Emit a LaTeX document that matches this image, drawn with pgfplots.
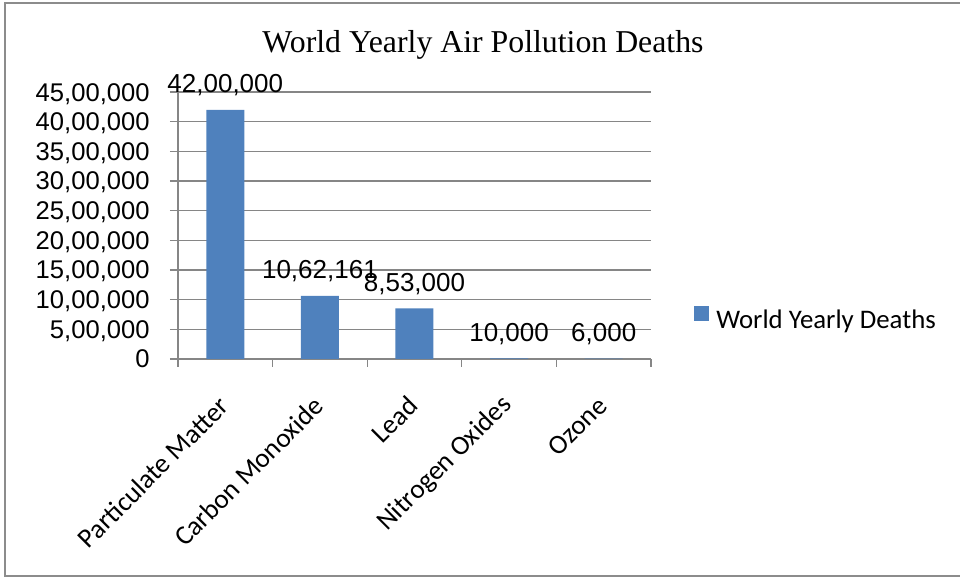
\documentclass[border=0pt]{standalone}
\usepackage{pgfplots}
\usepackage{pgfplotstable}
\pgfplotsset{compat=1.18}
\usepackage{fontspec}
\setmainfont{Liberation Sans}
\newfontfamily\seriffont{Liberation Serif}
\newfontfamily\califont{Carlito}
\definecolor{barblue}{RGB}{79,129,189}
\definecolor{gridgray}{RGB}{134,134,134}
\definecolor{bordergray}{RGB}{140,140,140}

\pgfplotstableread{
x y label
0 4200000 42,00,000
1 1062161 10,62,161
2 853000 8,53,000
3 10000 10,000
4 6000 6,000
}\deaths

\begin{document}
\begin{tikzpicture}
\useasboundingbox (0,0) rectangle (480pt,289pt);
\draw[bordergray, line width=1pt] (480pt,287.5pt) -- (2.5pt,287.5pt) -- (2.5pt,1pt) -- (480pt,1pt);
\node[anchor=base, font=\seriffont\fontsize{15.9}{18}\selectfont] at (241.5pt,262.5pt) {World Yearly Air Pollution Deaths};
\begin{axis}[
  at={(89pt,109.5pt)}, anchor=south west,
  scale only axis, width=236.5pt, height=133.5pt,
  xmin=-0.5, xmax=4.5, ymin=0, ymax=4500000,
  axis x line*=bottom, axis y line*=left,
  axis line style={gridgray, line width=0.6pt},
  ymajorgrids, grid style={gridgray, line width=0.6pt},
  xtick={-0.5,0.5,...,4.5},
  x tick label as interval,
  xticklabels={Particulate Matter,Carbon Monoxide,Lead,Nitrogen Oxides,Ozone},
  ytick={0,500000,...,4500000},
  yticklabels={0,{5,00,000},{10,00,000},{15,00,000},{20,00,000},{25,00,000},{30,00,000},{35,00,000},{40,00,000},{45,00,000}},
  scaled y ticks=false,
  tick align=outside, major tick length=4pt,
  tick style={gridgray, line width=0.6pt},
  xtick pos=bottom, ytick pos=left,
  /pgf/number format/assume math mode=true,
  yticklabel style={font=\fontsize{12.8}{14}\selectfont, anchor=base east, inner sep=0pt, xshift=-10pt, yshift=-4.5pt},
  xticklabel style={font=\califont\fontsize{13.6}{15}\selectfont, xshift=-0.5pt, yshift=-17pt, rotate=45, anchor=east, inner sep=0pt},
  ybar, bar width=19pt,
  nodes near coords,
  point meta=explicit symbolic,
  nodes near coords style={font=\fontsize{13}{14}\selectfont, anchor=base, inner sep=0pt, yshift=8.6pt, black},
  legend style={draw=none, fill=none, at={(1.0909,0.150)}, anchor=west, inner sep=0pt,
    nodes={inner sep=0pt}, column sep=3.5pt, font=\califont\fontsize{13.4}{15}\selectfont},
  legend cell align=left,
]
\addplot[fill=barblue, draw=none,
  legend image code/.code={\fill[barblue] (0pt,0pt) rectangle (7.5pt,7.5pt);}]
  table[x=x, y=y, meta=label] {\deaths};
\addlegendentry{World Yearly Deaths}
\end{axis}
\end{tikzpicture}
\end{document}
